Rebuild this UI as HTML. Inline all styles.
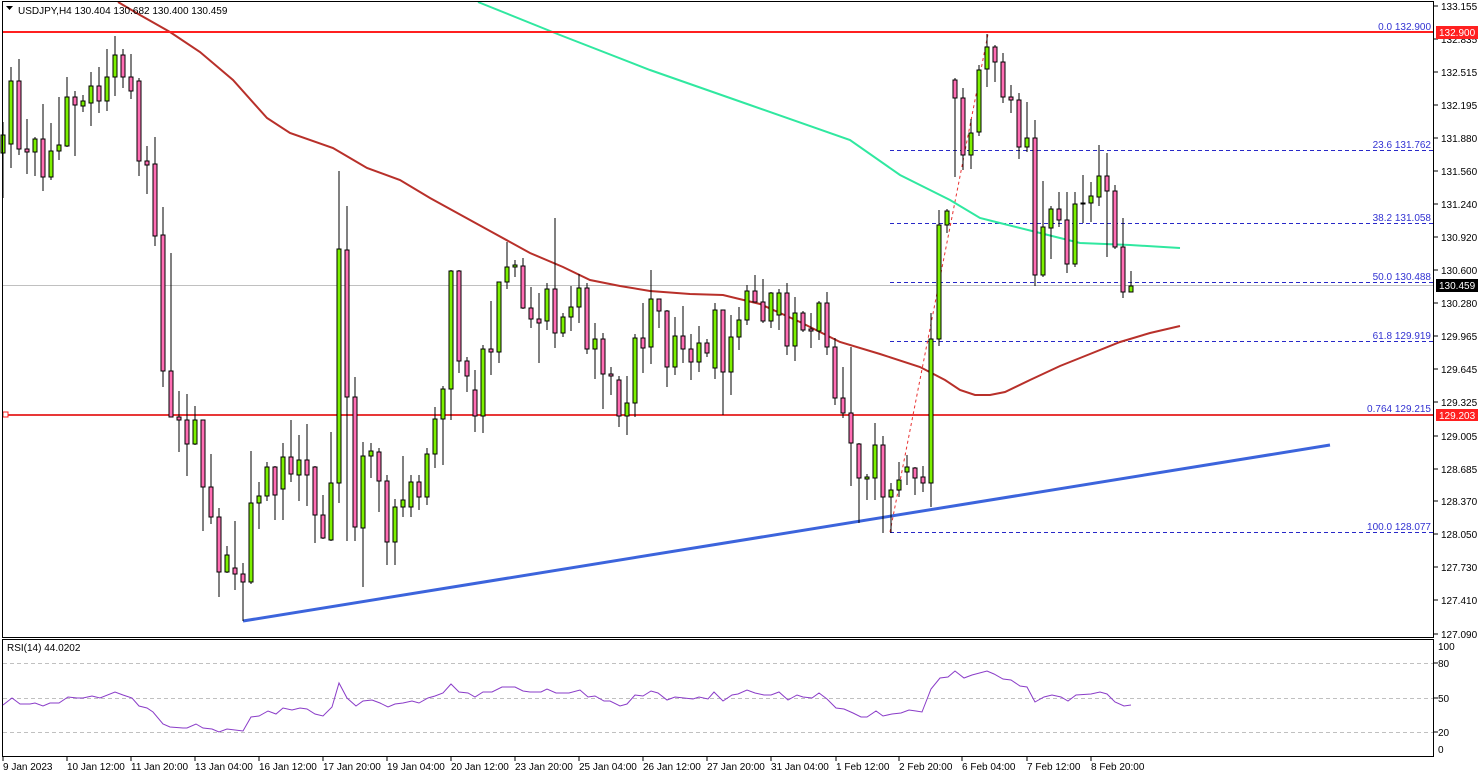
<!DOCTYPE html>
<html><head><meta charset="utf-8"><style>
html,body{margin:0;padding:0;background:#fff;width:1480px;height:777px;overflow:hidden}
svg{display:block;font-family:"Liberation Sans",sans-serif}
.g{fill:#7cf000;stroke:#000}.r{fill:#ff6eb4;stroke:#000}
.ax{font-size:10px;fill:#000}
.fb{font-size:10px;fill:#3232d2;text-anchor:end}
</style></head><body>
<svg width="1480" height="777" viewBox="0 0 1480 777" xmlns="http://www.w3.org/2000/svg">
<rect width="1480" height="777" fill="#fff"/>
<!-- gray bid line -->
<line x1="2" y1="285.5" x2="1434" y2="285.5" stroke="#c0c0c0"/>
<!-- fib dashed lines -->
<g stroke="#2828c8" stroke-dasharray="4,3" stroke-width="1">
<line x1="890" y1="150.5" x2="1434" y2="150.5"/>
<line x1="890" y1="223.5" x2="1434" y2="223.5"/>
<line x1="890" y1="282.5" x2="1434" y2="282.5"/>
<line x1="890" y1="341.5" x2="1434" y2="341.5"/>
<line x1="890" y1="532.5" x2="1434" y2="532.5"/>
</g>
<line x1="890" y1="532" x2="988" y2="34" stroke="#e83030" stroke-dasharray="3,3"/>
<!-- MA lines -->
<polyline fill="none" stroke="#b8302a" stroke-width="2" points="118,2 140,15 170,32 200,52 233,80 267,118 290,133 333,148 350,158 367,168 400,180 430,198 490,231 530,253 563,267 590,280 620,286 650,291 690,294 723,295 760,304 780,313 800,322 840,342 880,354 920,367 945,380 960,390 975,395 990,395 1005,392 1030,380 1060,366 1090,354 1120,342 1150,333 1180,326"/>
<polyline fill="none" stroke="#30e8a0" stroke-width="2" points="478,2 560,35 650,70 750,105 850,140 900,175 930,190 950,200 980,218 1000,223 1040,233 1080,243 1130,245 1180,248"/>
<!-- trendline -->
<line x1="243" y1="621" x2="1330" y2="445" stroke="#3c64dc" stroke-width="3"/>
<!-- red lines -->
<line x1="2" y1="32" x2="1434" y2="32" stroke="#ff2020" stroke-width="2"/>
<line x1="2" y1="415" x2="1434" y2="415" stroke="#e83838" stroke-width="2"/>
<rect x="3" y="412" width="5" height="5" fill="#fff" stroke="#ff2020"/>
<!-- wicks -->
<path stroke="#000" stroke-width="1" fill="none" shape-rendering="crispEdges" d="M3 122V198M11 67V168M19 59V155M27 119V174M35 137V176M43 104V191M51 123V180M59 97V160M67 77V147M75 91V156M83 95V112M91 72V126M99 67V113M107 49V111M115 36V96M123 49V88M131 54V99M139 78V176M147 146V194M155 137V246M163 207V387M171 253V417M179 391V452M187 394V476M195 406V445M203 420V531M211 454V524M219 508V597M227 546V573M235 521V590M243 563V621M251 451V584M259 482V529M267 462V501M275 466V520M283 443V520M291 420V482M299 435V501M307 424V506M315 466V543M323 495V539M331 432V541M339 171V503M347 206V541M355 377V541M363 442V587M371 443V478M379 448V512M387 475V565M395 499V565M403 456V517M411 475V517M419 475V510M427 448V505M435 407V468M443 386V465M451 270V420M459 270V373M467 357V392M475 370V432M483 345V433M491 301V375M499 282V363M507 242V289M515 260V277M523 258V309M531 287V328M539 293V363M547 283V330M555 218V348M563 313V337M571 286V331M579 274V323M587 283V354M595 323V379M603 333V409M611 367V395M619 376V427M627 376V435M635 334V417M643 303V373M651 270V364M659 299V328M667 310V387M675 317V375M683 306V363M691 334V380M699 326V372M707 339V357M715 303V379M723 310V415M731 315V395M739 307V350M747 285V325M755 275V302M763 279V323M771 292V328M779 289V330M787 283V355M795 297V361M803 311V332M811 313V348M819 301V340M827 292V355M835 338V405M843 367V418M851 347V486M859 443V523M867 474V500M875 423V500M883 436V533M891 483V533M899 462V497M907 455V485M915 467V495M923 466V492M931 313V507M939 210V346M947 209V233M955 78V177M963 88V170M971 119V169M979 65V136M987 34V87M995 45V82M1003 53V103M1011 85V113M1019 93V159M1027 102V152M1035 120V286M1043 181V277M1051 206V259M1059 192V227M1067 192V273M1075 192V267M1083 175V223M1091 182V222M1099 145V206M1107 153V257M1115 185V249M1123 218V298M1131 271V292"/>
<!-- bodies -->
<g shape-rendering="crispEdges">
<rect class="g" x="1" y="135" width="4" height="18"/>
<rect class="g" x="9" y="81" width="4" height="63"/>
<rect class="r" x="17" y="81" width="4" height="68"/>
<rect class="r" x="25" y="149" width="4" height="3"/>
<rect class="g" x="33" y="139" width="4" height="13"/>
<rect class="r" x="41" y="139" width="4" height="38"/>
<rect class="g" x="49" y="151" width="4" height="26"/>
<rect class="g" x="57" y="145" width="4" height="6"/>
<rect class="g" x="65" y="97" width="4" height="49"/>
<rect class="r" x="73" y="97" width="4" height="8"/>
<rect class="g" x="81" y="101" width="4" height="5"/>
<rect class="g" x="89" y="86" width="4" height="17"/>
<rect class="r" x="97" y="86" width="4" height="15"/>
<rect class="g" x="105" y="77" width="4" height="24"/>
<rect class="g" x="113" y="55" width="4" height="22"/>
<rect class="r" x="121" y="55" width="4" height="22"/>
<rect class="r" x="129" y="77" width="4" height="14"/>
<rect class="r" x="137" y="81" width="4" height="80"/>
<rect class="r" x="145" y="161" width="4" height="4"/>
<rect class="r" x="153" y="164" width="4" height="72"/>
<rect class="r" x="161" y="235" width="4" height="136"/>
<rect class="r" x="169" y="371" width="4" height="46"/>
<rect class="r" x="177" y="417" width="4" height="3"/>
<rect class="r" x="185" y="420" width="4" height="24"/>
<rect class="g" x="193" y="420" width="4" height="24"/>
<rect class="r" x="201" y="420" width="4" height="67"/>
<rect class="r" x="209" y="487" width="4" height="30"/>
<rect class="r" x="217" y="517" width="4" height="55"/>
<rect class="g" x="225" y="555" width="4" height="17"/>
<rect class="r" x="233" y="568" width="4" height="6"/>
<rect class="r" x="241" y="574" width="4" height="8"/>
<rect class="g" x="249" y="503" width="4" height="79"/>
<rect class="g" x="257" y="496" width="4" height="7"/>
<rect class="g" x="265" y="467" width="4" height="29"/>
<rect class="r" x="273" y="467" width="4" height="28"/>
<rect class="g" x="281" y="457" width="4" height="32"/>
<rect class="r" x="289" y="457" width="4" height="17"/>
<rect class="g" x="297" y="460" width="4" height="15"/>
<rect class="r" x="305" y="460" width="4" height="15"/>
<rect class="r" x="313" y="467" width="4" height="48"/>
<rect class="r" x="321" y="515" width="4" height="23"/>
<rect class="g" x="329" y="483" width="4" height="57"/>
<rect class="g" x="337" y="249" width="4" height="234"/>
<rect class="r" x="345" y="250" width="4" height="147"/>
<rect class="r" x="353" y="397" width="4" height="130"/>
<rect class="g" x="361" y="456" width="4" height="72"/>
<rect class="g" x="369" y="451" width="4" height="5"/>
<rect class="r" x="377" y="452" width="4" height="29"/>
<rect class="r" x="385" y="481" width="4" height="61"/>
<rect class="g" x="393" y="507" width="4" height="35"/>
<rect class="g" x="401" y="500" width="4" height="7"/>
<rect class="g" x="409" y="482" width="4" height="25"/>
<rect class="r" x="417" y="482" width="4" height="15"/>
<rect class="g" x="425" y="454" width="4" height="43"/>
<rect class="g" x="433" y="419" width="4" height="35"/>
<rect class="g" x="441" y="389" width="4" height="30"/>
<rect class="g" x="449" y="271" width="4" height="118"/>
<rect class="r" x="457" y="271" width="4" height="90"/>
<rect class="r" x="465" y="361" width="4" height="15"/>
<rect class="r" x="473" y="390" width="4" height="26"/>
<rect class="g" x="481" y="349" width="4" height="67"/>
<rect class="r" x="489" y="349" width="4" height="3"/>
<rect class="g" x="497" y="282" width="4" height="70"/>
<rect class="g" x="505" y="267" width="4" height="15"/>
<rect class="g" x="513" y="265" width="4" height="2"/>
<rect class="r" x="521" y="266" width="4" height="42"/>
<rect class="r" x="529" y="308" width="4" height="11"/>
<rect class="r" x="537" y="319" width="4" height="4"/>
<rect class="g" x="545" y="289" width="4" height="32"/>
<rect class="r" x="553" y="289" width="4" height="44"/>
<rect class="g" x="561" y="317" width="4" height="16"/>
<rect class="g" x="569" y="307" width="4" height="10"/>
<rect class="g" x="577" y="288" width="4" height="19"/>
<rect class="r" x="585" y="288" width="4" height="61"/>
<rect class="g" x="593" y="339" width="4" height="10"/>
<rect class="r" x="601" y="339" width="4" height="35"/>
<rect class="r" x="609" y="374" width="4" height="2"/>
<rect class="r" x="617" y="380" width="4" height="36"/>
<rect class="g" x="625" y="403" width="4" height="13"/>
<rect class="g" x="633" y="338" width="4" height="65"/>
<rect class="r" x="641" y="338" width="4" height="10"/>
<rect class="g" x="649" y="299" width="4" height="48"/>
<rect class="r" x="657" y="299" width="4" height="12"/>
<rect class="r" x="665" y="311" width="4" height="56"/>
<rect class="g" x="673" y="336" width="4" height="31"/>
<rect class="r" x="681" y="336" width="4" height="13"/>
<rect class="r" x="689" y="349" width="4" height="13"/>
<rect class="g" x="697" y="343" width="4" height="19"/>
<rect class="r" x="705" y="343" width="4" height="10"/>
<rect class="g" x="713" y="310" width="4" height="58"/>
<rect class="r" x="721" y="310" width="4" height="62"/>
<rect class="g" x="729" y="337" width="4" height="35"/>
<rect class="g" x="737" y="320" width="4" height="17"/>
<rect class="g" x="745" y="291" width="4" height="29"/>
<rect class="r" x="753" y="291" width="4" height="11"/>
<rect class="r" x="761" y="302" width="4" height="19"/>
<rect class="g" x="769" y="293" width="4" height="28"/>
<rect class="g" x="777" y="293" width="4" height="22"/>
<rect class="r" x="785" y="293" width="4" height="53"/>
<rect class="g" x="793" y="313" width="4" height="33"/>
<rect class="r" x="801" y="313" width="4" height="17"/>
<rect class="r" x="809" y="329" width="4" height="2"/>
<rect class="g" x="817" y="303" width="4" height="28"/>
<rect class="r" x="825" y="303" width="4" height="44"/>
<rect class="r" x="833" y="347" width="4" height="51"/>
<rect class="r" x="841" y="398" width="4" height="15"/>
<rect class="r" x="849" y="413" width="4" height="30"/>
<rect class="r" x="857" y="444" width="4" height="34"/>
<rect class="g" x="865" y="477" width="4" height="2"/>
<rect class="g" x="873" y="445" width="4" height="33"/>
<rect class="r" x="881" y="445" width="4" height="52"/>
<rect class="g" x="889" y="490" width="4" height="7"/>
<rect class="g" x="897" y="480" width="4" height="10"/>
<rect class="g" x="905" y="467" width="4" height="5"/>
<rect class="r" x="913" y="468" width="4" height="10"/>
<rect class="r" x="921" y="477" width="4" height="6"/>
<rect class="g" x="929" y="339" width="4" height="144"/>
<rect class="g" x="937" y="225" width="4" height="114"/>
<rect class="g" x="945" y="211" width="4" height="14"/>
<rect class="r" x="953" y="80" width="4" height="18"/>
<rect class="r" x="961" y="98" width="4" height="57"/>
<rect class="g" x="969" y="133" width="4" height="22"/>
<rect class="g" x="977" y="70" width="4" height="62"/>
<rect class="g" x="985" y="47" width="4" height="22"/>
<rect class="r" x="993" y="47" width="4" height="15"/>
<rect class="r" x="1001" y="62" width="4" height="35"/>
<rect class="r" x="1009" y="97" width="4" height="3"/>
<rect class="r" x="1017" y="100" width="4" height="47"/>
<rect class="g" x="1025" y="138" width="4" height="9"/>
<rect class="r" x="1033" y="138" width="4" height="137"/>
<rect class="g" x="1041" y="227" width="4" height="48"/>
<rect class="g" x="1049" y="209" width="4" height="19"/>
<rect class="r" x="1057" y="209" width="4" height="11"/>
<rect class="r" x="1065" y="220" width="4" height="44"/>
<rect class="g" x="1073" y="204" width="4" height="60"/>
<rect class="g" x="1081" y="203" width="4" height="1"/>
<rect class="g" x="1089" y="196" width="4" height="7"/>
<rect class="g" x="1097" y="176" width="4" height="21"/>
<rect class="r" x="1105" y="176" width="4" height="15"/>
<rect class="r" x="1113" y="191" width="4" height="56"/>
<rect class="r" x="1121" y="247" width="4" height="45"/>
<rect class="g" x="1129" y="286" width="4" height="6"/>
</g>
<!-- fib labels -->
<text class="fb" x="1431" y="30">0.0 132.900</text>
<text class="fb" x="1431" y="148">23.6 131.762</text>
<text class="fb" x="1431" y="221">38.2 131.058</text>
<text class="fb" x="1431" y="280">50.0 130.488</text>
<text class="fb" x="1431" y="339">61.8 129.919</text>
<text class="fb" x="1431" y="412">0.764 129.215</text>
<text class="fb" x="1431" y="530">100.0 128.077</text>
<!-- header -->
<path d="M6 6h7l-3.5 4z" fill="#000"/>
<text class="ax" x="18" y="14" font-size="11">USDJPY,H4  130.404 130.682 130.400 130.459</text>
<!-- panel frames -->
<g fill="none" stroke="#000" shape-rendering="crispEdges">
<rect x="2.5" y="1.5" width="1431" height="636"/>
<rect x="2.5" y="639.5" width="1431" height="117"/>
</g>
<!-- price axis -->
<g stroke="#000" shape-rendering="crispEdges">
<path d="M1434 6h4M1434 39h4M1434 72h4M1434 105h4M1434 138h4M1434 171h4M1434 204h4M1434 237h4M1434 270h4M1434 303h4M1434 336h4M1434 369h4M1434 402h4M1434 436h4M1434 469h4M1434 501h4M1434 534h4M1434 567h4M1434 600h4M1434 634h4M1434 663h4M1434 698h4M1434 732h4"/>
</g>
<g class="ax">
<text x="1441" y="10">133.155</text>
<text x="1441" y="43">132.835</text>
<text x="1441" y="76">132.515</text>
<text x="1441" y="109">132.195</text>
<text x="1441" y="142">131.880</text>
<text x="1441" y="175">131.560</text>
<text x="1441" y="208">131.240</text>
<text x="1441" y="241">130.920</text>
<text x="1441" y="274">130.600</text>
<text x="1441" y="307">130.280</text>
<text x="1441" y="340">129.965</text>
<text x="1441" y="373">129.645</text>
<text x="1441" y="406">129.325</text>
<text x="1441" y="440">129.005</text>
<text x="1441" y="473">128.685</text>
<text x="1441" y="505">128.370</text>
<text x="1441" y="538">128.050</text>
<text x="1441" y="571">127.730</text>
<text x="1441" y="604">127.410</text>
<text x="1441" y="638">127.090</text>
<text x="1438" y="650">100</text>
<text x="1438" y="667">80</text>
<text x="1438" y="702">50</text>
<text x="1438" y="736">20</text>
<text x="1438" y="753">0</text>
</g>
<rect x="1436" y="26" width="42" height="13" fill="#ff2020"/>
<text x="1439" y="36" font-size="10" fill="#fff">132.900</text>
<rect x="1436" y="279" width="42" height="13" fill="#000"/>
<text x="1439" y="289" font-size="10" fill="#fff">130.459</text>
<rect x="1436" y="409" width="42" height="12" fill="#ff2020"/>
<text x="1439" y="419" font-size="10" fill="#fff">129.203</text>
<!-- RSI -->
<g stroke="#c0c0c0" stroke-dasharray="4,3">
<line x1="3" y1="663.5" x2="1433" y2="663.5"/>
<line x1="3" y1="698.5" x2="1433" y2="698.5"/>
<line x1="3" y1="732.5" x2="1433" y2="732.5"/>
</g>
<text class="ax" x="7" y="651">RSI(14) 44.0202</text>
<polyline fill="none" stroke="#8a3cc8" stroke-width="1" points="3,705 12,698 20,704 30,704 35,703 43,706 50,703 59,703 68,697 77,698 83,698 92,696 100,698 115,692 123,695 132,698 139,706 147,708 153,712 163,724 170,727 183,728 187,728 196,724 203,728 212,729 219,732 227,729 243,731 251,717 259,716 268,711 276,714 283,708 292,710 300,708 307,709 315,714 323,716 332,707 339,683 347,698 356,706 363,701 372,700 380,703 388,707 395,704 403,703 412,701 419,703 428,698 435,696 443,693 451,684 459,692 468,693 475,697 483,692 492,692 502,687 515,687 523,691 530,692 541,692 547,689 556,693 569,693 580,690 588,697 595,696 604,701 610,701 620,706 627,704 635,695 643,696 651,691 658,693 667,700 675,697 684,698 693,699 699,697 708,699 714,692 723,701 732,695 738,694 747,690 755,693 764,695 771,695 779,692 788,700 797,695 803,697 812,698 819,693 827,699 836,708 844,709 853,713 861,717 867,717 876,711 883,716 892,714 901,713 909,710 916,711 922,712 931,689 940,678 948,677 955,671 964,678 972,675 987,671 994,674 1003,679 1011,680 1020,686 1027,687 1035,702 1044,697 1052,695 1061,697 1068,701 1076,695 1091,694 1100,692 1107,694 1115,702 1124,706 1131,705"/>
<!-- time axis -->
<path stroke="#000" shape-rendering="crispEdges" d="M3 757v4M67 757v4M131 757v4M195 757v4M259 757v4M323 757v4M387 757v4M451 757v4M515 757v4M579 757v4M643 757v4M707 757v4M771 757v4M836 757v4M899 757v4M962 757v4M1027 757v4M1091 757v4"/>
<g class="ax">
<text x="3" y="770">9 Jan 2023</text>
<text x="67" y="770">10 Jan 12:00</text>
<text x="131" y="770">11 Jan 20:00</text>
<text x="195" y="770">13 Jan 04:00</text>
<text x="259" y="770">16 Jan 12:00</text>
<text x="323" y="770">17 Jan 20:00</text>
<text x="387" y="770">19 Jan 04:00</text>
<text x="451" y="770">20 Jan 12:00</text>
<text x="515" y="770">23 Jan 20:00</text>
<text x="579" y="770">25 Jan 04:00</text>
<text x="643" y="770">26 Jan 12:00</text>
<text x="707" y="770">27 Jan 20:00</text>
<text x="771" y="770">31 Jan 04:00</text>
<text x="836" y="770">1 Feb 12:00</text>
<text x="899" y="770">2 Feb 20:00</text>
<text x="962" y="770">6 Feb 04:00</text>
<text x="1027" y="770">7 Feb 12:00</text>
<text x="1091" y="770">8 Feb 20:00</text>
</g>
</svg>
</body></html>
